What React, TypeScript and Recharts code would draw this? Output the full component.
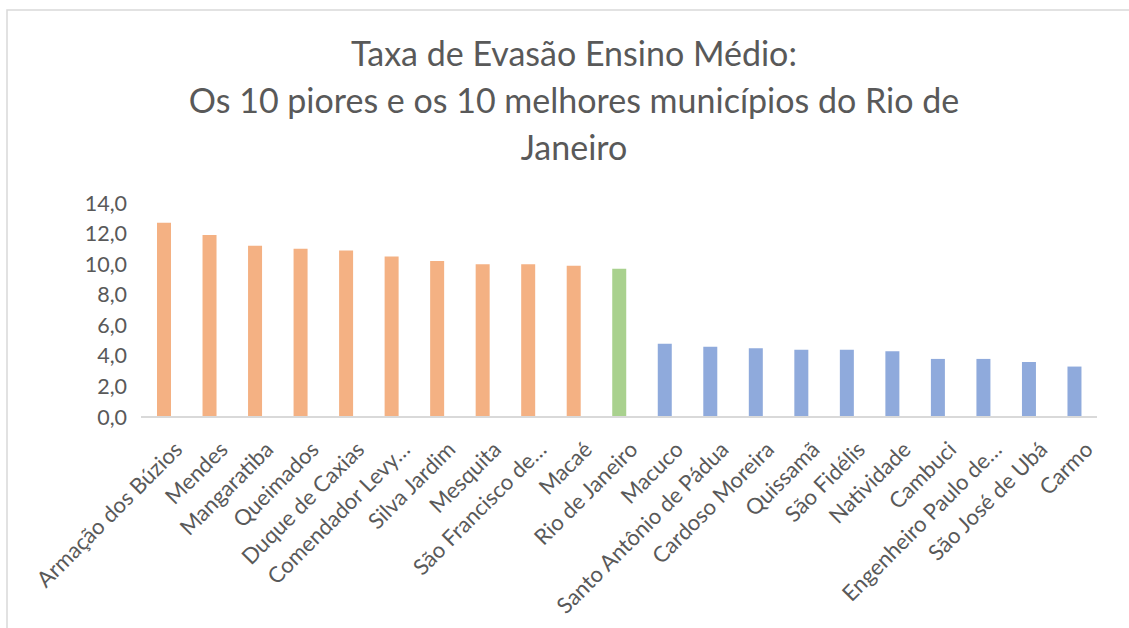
import React from 'react';
import { BarChart, Bar, XAxis, YAxis, Cell } from 'recharts';

const municipios = [
  'Armação dos Búzios', 'Mendes', 'Mangaratiba', 'Queimados', 'Duque de Caxias',
  'Comendador Levy…', 'Silva Jardim', 'Mesquita', 'São Francisco de…', 'Macaé',
  'Rio de Janeiro', 'Macuco', 'Santo Antônio de Pádua', 'Cardoso Moreira', 'Quissamã',
  'São Fidélis', 'Natividade', 'Cambuci', 'Engenheiro Paulo de…', 'São José de Ubá', 'Carmo',
];
const taxaEvasao = [
  12.7, 11.9, 11.2, 11.0, 10.9, 10.5, 10.2, 10.0, 10.0, 9.9,
  9.7, 4.8, 4.6, 4.5, 4.4, 4.4, 4.3, 3.8, 3.8, 3.6, 3.3,
];
const grupos = [
  'piores', 'piores', 'piores', 'piores', 'piores', 'piores', 'piores', 'piores', 'piores', 'piores',
  'capital', 'melhores', 'melhores', 'melhores', 'melhores', 'melhores', 'melhores', 'melhores', 'melhores', 'melhores', 'melhores',
];
const yTicks = [0, 2, 4, 6, 8, 10, 12, 14];
const titleLines = [
  'Taxa de Evasão Ensino Médio:',
  'Os 10 piores e os 10 melhores municípios do Rio de',
  'Janeiro',
];

const groupColors: Record<string, string> = {
  piores: '#F4B183',
  capital: '#A9D18E',
  melhores: '#8FAADC',
};

const data = municipios.map((m, i) => ({ municipio: m, taxa: taxaEvasao[i], grupo: grupos[i] }));

const FONT = 'Lato, "Open Sans", sans-serif';
const TEXT = '#595959';

const XTick = (props: any) => {
  const { x, y, payload } = props;
  const ax = x + 20;
  const ay = y + 34;
  return (
    <text
      x={ax}
      y={ay}
      transform={`rotate(-45, ${ax}, ${ay})`}
      textAnchor="end"
      fill={TEXT}
      fontSize={22}
      fontFamily={FONT}
    >
      {payload.value}
    </text>
  );
};

const fmt = (v: number) => v.toFixed(1).replace('.', ',');

export default function App() {
  return (
    <div style={{ position: 'absolute', left: 0, top: 0, width: 1129, height: 628, background: '#fff', overflow: 'hidden' }}>
      <svg width={1129} height={628} style={{ position: 'absolute', left: 0, top: 0 }}>
        <rect x={7} y={10} width={1200} height={700} fill="#fff" stroke="#D9D9D9" strokeWidth={1.5} />
      </svg>
      <div style={{ position: 'absolute', left: 0, top: 0 }}>
        <BarChart
          width={1129}
          height={628}
          data={data}
          margin={{ top: 203, right: 32, bottom: 0, left: 0 }}
          barCategoryGap={0}
        >
          <XAxis
            dataKey="municipio"
            interval={0}
            height={211}
            tickLine={false}
            tickSize={0}
            tickMargin={0}
            axisLine={{ stroke: '#D9D9D9', strokeWidth: 2 }}
            tick={<XTick />}
          />
          <YAxis
            width={141}
            domain={[0, 14]}
            ticks={yTicks}
            interval={0}
            tickFormatter={fmt}
            axisLine={false}
            tickLine={false}
            tickSize={0}
            tickMargin={14}
            tick={{ fill: TEXT, fontSize: 21.5, fontFamily: FONT }}
          />
          <Bar dataKey="taxa" barSize={14} isAnimationActive={false}>
            {data.map((d, i) => (
              <Cell key={i} fill={groupColors[d.grupo]} />
            ))}
          </Bar>
        </BarChart>
      </div>
      <svg width={1129} height={628} style={{ position: 'absolute', left: 0, top: 0, pointerEvents: 'none' }}>
        {titleLines.map((t, i) => (
          <text
            key={i}
            x={574}
            y={66 + i * 47}
            textAnchor="middle"
            fill={TEXT}
            fontSize={34}
            fontFamily={FONT}
          >
            {t}
          </text>
        ))}
      </svg>
    </div>
  );
}
